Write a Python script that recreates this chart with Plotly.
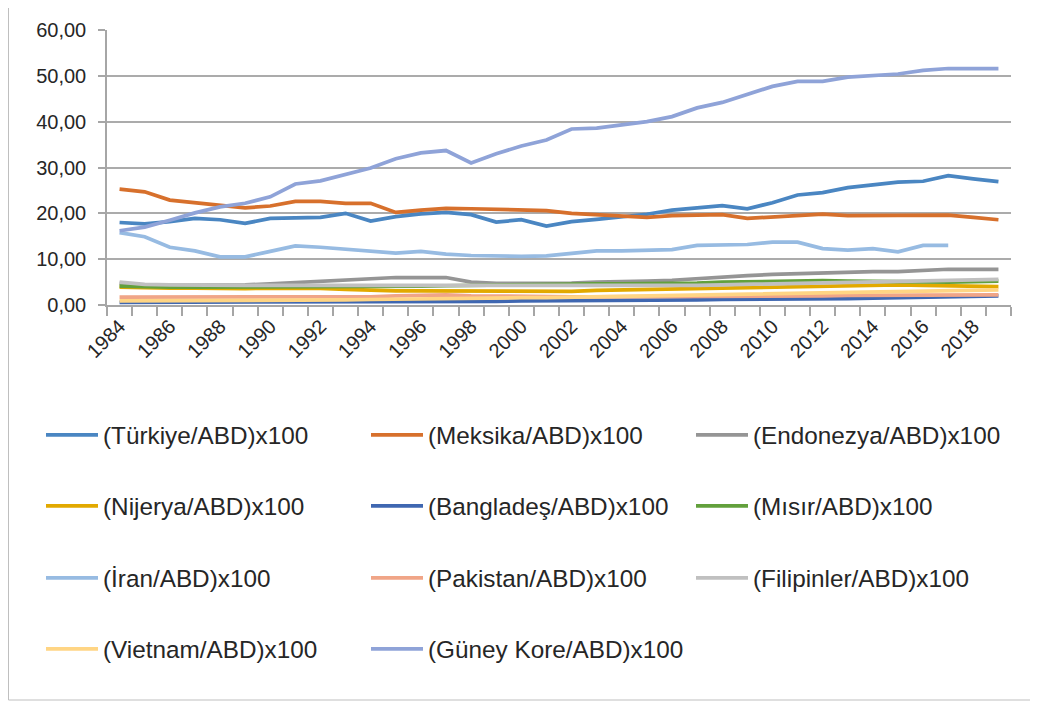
import plotly.graph_objects as go

years = list(range(1984, 2020))
tick_years = list(range(1984, 2019, 2))
tick_labels = [str(y) for y in tick_years]

turkiye = [18.0, 17.7, 18.2, 18.9, 18.6, 17.8, 18.9, 18.9, 19.1, 20.0, 18.3, 19.3, 19.9, 20.2, 19.7, 18.1, 18.6, 17.2,
           18.2, 18.7, 19.3, 19.8, 20.7, 21.3, 21.7, 21.0, 22.3, 24.0, 24.5, 25.6, 26.2, 26.8, 27.0, 28.2, 27.5, 26.9]
meksika = [25.3, 24.7, 22.9, 22.3, 21.7, 21.2, 21.6, 22.6, 22.6, 22.2, 22.2, 20.2, 20.7, 21.1, 21.0, 20.9, 20.9, 20.6,
           20.0, 19.7, 19.3, 19.1, 19.5, 19.7, 19.7, 18.9, 19.2, 19.6, 19.8, 19.5, 19.5, 19.5, 19.5, 19.6, 19.1, 18.6]
endonezya = [4.7, 4.3, 4.3, 4.3, 4.3, 4.4, 4.6, 4.9, 5.1, 5.4, 5.7, 6.0, 6.0, 6.0, 5.0, 4.7, 4.7, 4.7,
             4.8, 5.0, 5.0, 5.2, 5.4, 5.8, 6.1, 6.4, 6.7, 6.9, 7.1, 7.1, 7.3, 7.3, 7.6, 7.8, 7.8, 7.8]
nijerya = [3.9, 3.7, 3.7, 3.7, 3.6, 3.6, 3.7, 3.7, 3.6, 3.4, 3.2, 3.1, 3.1, 3.1, 3.1, 3.0, 3.0, 2.9,
           3.0, 3.2, 3.3, 3.4, 3.5, 3.6, 3.7, 3.8, 3.9, 4.0, 4.1, 4.3, 4.4, 4.4, 4.3, 4.2, 4.1, 4.0]
banglades = [0.6, 0.6, 0.6, 0.6, 0.6, 0.6, 0.6, 0.6, 0.6, 0.7, 0.7, 0.7, 0.7, 0.8, 0.8, 0.8, 0.9, 0.9,
             1.0, 1.0, 1.0, 1.0, 1.1, 1.1, 1.2, 1.2, 1.3, 1.3, 1.4, 1.4, 1.5, 1.6, 1.7, 1.8, 1.9, 2.0]
misir = [4.1, 3.9, 3.9, 3.9, 3.9, 4.0, 4.0, 4.0, 4.0, 4.0, 4.1, 4.1, 4.1, 4.2, 4.3, 4.4, 4.4, 4.5,
         4.5, 4.6, 4.6, 4.6, 4.7, 4.8, 5.0, 5.1, 5.2, 5.3, 5.3, 5.2, 5.1, 5.0, 5.0, 5.0, 5.1, 5.2]
iran = [15.8, 14.9, 12.6, 11.8, 10.5, 10.5, 11.7, 12.9, 12.6, 12.2, 11.6, 11.3, 11.7, 11.1, 10.8, 10.6, 10.6, 10.7,
        11.2, 11.8, 11.8, 11.9, 12.1, 13.0, 13.0, 13.2, 13.7, 13.7, 12.3, 12.0, 12.3, 11.6, 13.0, 13.0, None, None]
pakistan = [1.7, 1.7, 1.7, 1.7, 1.7, 1.7, 1.7, 1.7, 1.7, 1.7, 1.8, 2.0, 2.2, 2.2, 2.0, 1.9, 1.8, 1.8,
            1.8, 1.8, 1.8, 1.8, 1.8, 1.8, 1.9, 2.0, 2.0, 2.0, 2.0, 2.1, 2.1, 2.1, 2.1, 2.1, 2.2, 2.2]
filipinler = [5.0, 4.5, 4.4, 4.3, 4.3, 4.3, 4.3, 4.3, 4.3, 4.3, 4.3, 4.3, 4.3, 4.3, 4.2, 4.2, 4.2, 4.1,
              4.1, 4.1, 4.2, 4.2, 4.3, 4.3, 4.4, 4.5, 4.6, 4.7, 4.8, 4.9, 5.0, 5.1, 5.2, 5.3, 5.5, 5.6]
vietnam = [0.9, 0.9, 0.9, 0.9, 0.9, 0.9, 0.9, 0.9, 1.0, 1.1, 1.2, 1.3, 1.4, 1.5, 1.5, 1.5, 1.6, 1.6,
           1.7, 1.8, 1.9, 2.0, 2.1, 2.2, 2.3, 2.4, 2.5, 2.6, 2.7, 2.8, 2.8, 2.9, 3.0, 3.1, 3.2, 3.3]
guney_kore = [16.2, 17.0, 18.5, 20.1, 21.4, 22.2, 23.6, 26.4, 27.1, 28.4, 29.9, 31.9, 33.2, 33.7, 31.0, 33.0, 34.7, 36.0,
              38.4, 38.6, 39.3, 40.0, 41.1, 43.0, 44.2, 45.9, 47.7, 48.8, 48.8, 49.7, 50.0, 50.4, 51.2, 51.6, 51.6, 51.6]

series_names = ["(Türkiye/ABD)x100", "(Meksika/ABD)x100", "(Endonezya/ABD)x100",
                "(Nijerya/ABD)x100", "(Bangladeş/ABD)x100", "(Mısır/ABD)x100",
                "(İran/ABD)x100", "(Pakistan/ABD)x100", "(Filipinler/ABD)x100",
                "(Vietnam/ABD)x100", "(Güney Kore/ABD)x100"]
series_values = [turkiye, meksika, endonezya, nijerya, banglades, misir,
                 iran, pakistan, filipinler, vietnam, guney_kore]
colors = ["#4A86C2", "#D7702C", "#959595", "#E2A900", "#3F67B1", "#62A03C",
          "#97BBE2", "#F0A587", "#C0C0C0", "#FFD584", "#8FA3D8"]

FONT = "Liberation Sans"
TXT = "#262626"
W, H = 1038, 702

# legend grid: 3 columns, 4 rows (pixel positions within the figure)
col_x = [33, 358, 683]
row_y = [427, 498, 570, 641]

fig = go.Figure()
legends = {}
for i, (name, vals, col) in enumerate(zip(series_names, series_values, colors)):
    key = "legend" if i == 0 else f"legend{i+1}"
    fig.add_trace(go.Scatter(x=years, y=vals, name=name, mode="lines",
                             line=dict(color=col, width=3.75), legend=key,
                             connectgaps=False))
    r, c = divmod(i, 3)
    legends[key] = dict(orientation="h", xref="container", yref="container",
                        x=col_x[c] / W, y=1 - row_y[r] / H,
                        xanchor="left", yanchor="middle", itemwidth=52,
                        font=dict(family=FONT, size=24.3, color=TXT),
                        bgcolor="rgba(0,0,0,0)", borderwidth=0)

# plot area in figure pixels
PL, PR, PT, PB = 99, 1003, 22, 297

fig.update_layout(
    width=W, height=H,
    margin=dict(l=PL, r=W - PR, t=PT, b=H - PB, autoexpand=False),
    paper_bgcolor="white", plot_bgcolor="white",
    separators=",.",
    showlegend=True,
    font=dict(family=FONT, color=TXT),
    **legends,
)

fig.update_xaxes(
    range=[1983.5, 2019.5],
    tickvals=tick_years, ticktext=tick_labels, tickangle=-45,
    ticks="", showgrid=False,
    showline=True, linecolor="#A6A6A6", linewidth=1.5,
    tickfont=dict(family=FONT, size=20, color=TXT),
    minor=dict(tick0=1983.5, dtick=1, ticks="outside", ticklen=9,
               tickcolor="#A6A6A6", tickwidth=1.5, showgrid=False),
)
fig.update_yaxes(
    range=[0, 60], dtick=10, tickformat=".2f",
    showgrid=True, gridcolor="#ABABAB", gridwidth=1.5,
    showline=True, linecolor="#A6A6A6", linewidth=1.5,
    ticks="outside", ticklen=7, tickcolor="#A6A6A6", tickwidth=1.5,
    ticklabelstandoff=8,
    tickfont=dict(family=FONT, size=20, color=TXT),
    zeroline=False,
)

pw, ph = PR - PL, PB - PT
fig.add_shape(type="rect", xref="paper", yref="paper",
              x0=(0.5 - PL) / pw, x1=(W + 3 - PL) / pw,
              y0=(PB - 692) / ph, y1=(PB + 3) / ph,
              line=dict(color="#BFBFBF", width=1), fillcolor="rgba(0,0,0,0)",
              layer="below")

fig.write_html("out.html")
